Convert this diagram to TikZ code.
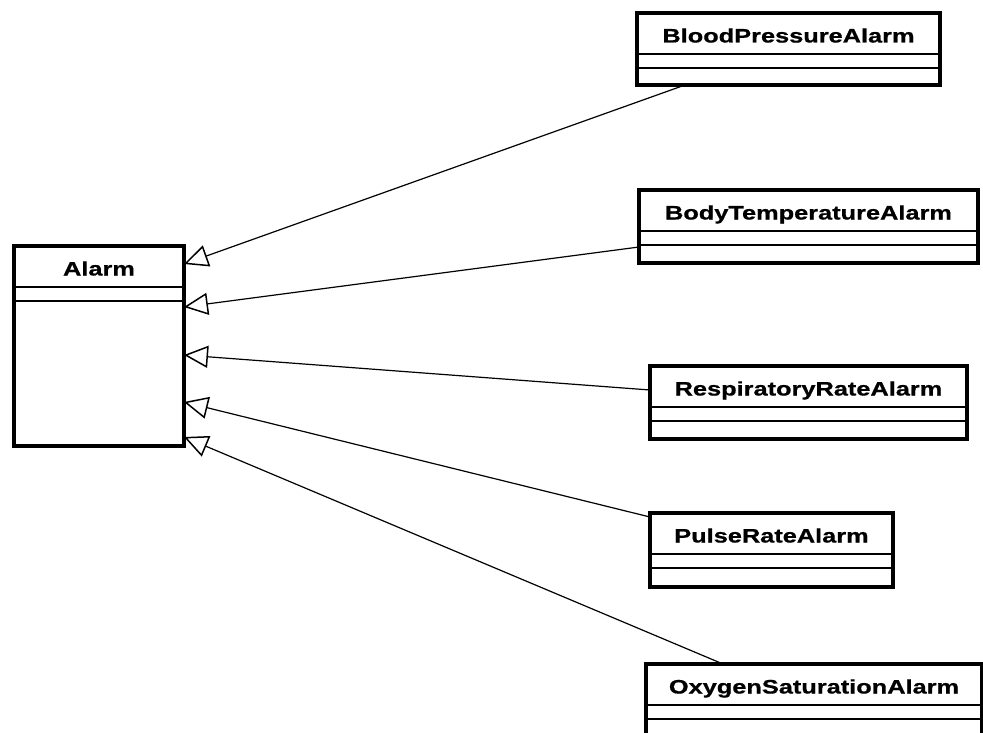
\documentclass[tikz,border=0pt]{standalone}
\usepackage{fontspec}
\newfontfamily\classfont[FakeStretch=1.3, FakeBold=0.8]{Liberation Sans}
\usetikzlibrary{arrows.meta,calc}

% A UML class: outer frame, name compartment, empty attribute and operation compartments
% #1 name, #2 x, #3 y (top-left corner), #4 width, #5 height, #6 class name
\newcommand\umlclass[6]{%
  \node[classbox, minimum width=#4pt, minimum height=#5pt] (#1) at (#2,#3) {};
  \draw[divider] ($(#1.north west)+(0,41)$) -- ($(#1.north east)+(0,41)$);
  \draw[divider] ($(#1.north west)+(0,55)$) -- ($(#1.north east)+(0,55)$);
  \draw[line width=3.2pt] (#1.north west) rectangle (#1.south east);
  \node[classname] (#1-name) at ($(#1.north)+(0,29.5)$) {#6};
}

\tikzset{
  classbox/.style={inner sep=0pt, outer sep=0pt, anchor=north west, fill=white},
  divider/.style={line width=1.7pt},
  classname/.style={anchor=base, inner sep=0pt,
    font=\classfont\bfseries\fontsize{19.5}{22}\selectfont},
  generalization/.style={line width=1.2pt,
    -{Triangle[open, length=24pt, width=22pt, line width=1.5pt]}},
}

\begin{document}
\begin{tikzpicture}[x=1pt, y=-1pt]
  \useasboundingbox (0,0) rectangle (983,733);
  \fill[white] (0,0) rectangle (983,733);
  \clip (0,0) rectangle (983,733);

  % superclass
  \umlclass{alarm}{14}{246}{170}{200}{Alarm}

  % subclasses
  \umlclass{bp}{637}{13}{303}{72}{BloodPressureAlarm}
  \umlclass{bt}{639}{190}{339}{73}{BodyTemperatureAlarm}
  \umlclass{rr}{650}{366}{317}{73}{RespiratoryRateAlarm}
  \umlclass{pr}{650}{513}{243}{74}{PulseRateAlarm}
  \umlclass{os}{646}{664}{336}{90}{OxygenSaturationAlarm}

  % attachment points on the superclass
  \coordinate (a1) at ($(alarm.north east)+(0,18)$);
  \coordinate (a2) at ($(alarm.north east)+(0,61)$);
  \coordinate (a3) at ($(alarm.north east)+(0,109)$);
  \coordinate (a4) at ($(alarm.north east)+(0,156)$);
  \coordinate (a5) at ($(alarm.north east)+(0,191)$);

  % attachment points on the subclasses
  \coordinate (s1) at ($(bp.south west)+(48,0)$);
  \coordinate (s2) at ($(bt.north west)+(0,57)$);
  \coordinate (s3) at ($(rr.north west)+(0,24)$);
  \coordinate (s4) at ($(pr.north west)+(0,4)$);
  \coordinate (s5) at ($(os.north west)+(77,0)$);

  % generalization arrows
  \draw[generalization] (s1) -- (a1);
  \draw[generalization] (s2) -- (a2);
  \draw[generalization] (s3) -- (a3);
  \draw[generalization] (s4) -- (a4);
  \draw[generalization] (s5) -- (a5);
\end{tikzpicture}
\end{document}
